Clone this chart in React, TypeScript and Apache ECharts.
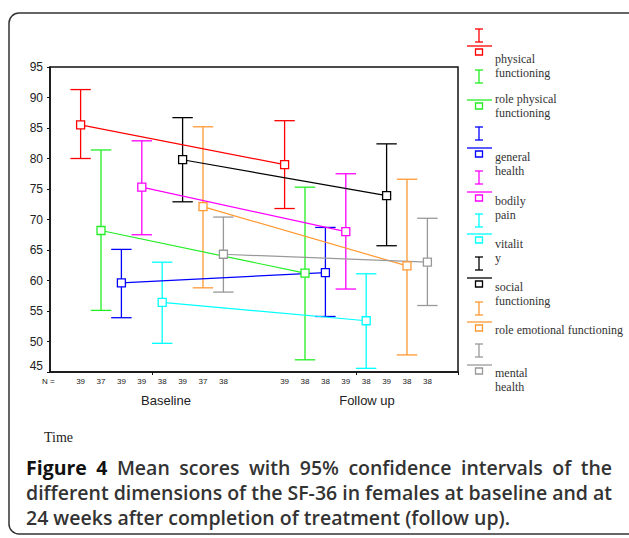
import React, { useEffect, useRef } from "react";
import * as echarts from "echarts";

const dimensions = [
  "physical functioning",
  "role physical functioning",
  "general health",
  "bodily pain",
  "vitality",
  "social functioning",
  "role emotional functioning",
  "mental health",
];
const legendLabels = [
  "physical\nfunctioning",
  "role physical\nfunctioning",
  "general\nhealth",
  "bodily\npain",
  "vitalit\ny",
  "social\nfunctioning",
  "role emotional functioning",
  "mental\nhealth",
];
const colors = ["#ff0000", "#22ee22", "#0000ff", "#ff00ff", "#00ffff", "#000000", "#ff9933", "#999999"];
const timeLabels = ["Baseline", "Follow up"];

const baselineMean = [85.5, 68.2, 59.6, 75.3, 56.4, 79.8, 72.1, 64.3];
const baselineLower = [80.0, 55.1, 53.9, 67.5, 49.7, 72.9, 58.8, 58.1];
const baselineUpper = [91.3, 81.4, 65.1, 82.9, 63.0, 86.7, 85.2, 70.4];
const followMean = [79.0, 61.2, 61.3, 68.0, 53.4, 73.9, 62.4, 63.0];
const followLower = [71.8, 47.0, 54.1, 58.6, 45.6, 65.7, 47.8, 55.9];
const followUpper = [86.2, 75.3, 68.7, 77.5, 61.1, 82.4, 76.6, 70.2];
const baselineN = [39, 37, 39, 39, 38, 39, 37, 38];
const followN = [39, 38, 38, 39, 38, 39, 38, 38];

const yMin = 45;
const yMax = 95;
const yStep = 5;

// layout of the (SPSS style) legend: top of "I" glyph, legend line, first text line centre
const legendIconTop = [29, 70, 127, 171, 214, 257, 302, 344];
const legendLineY = [46, 100, 148, 192, 234, 278, 322, 365];
const legendTextY = [59, 99, 157, 201, 244, 287, 330, 373];

const captionBold = "Figure 4";
const captionLines = [
  "Figure 4 Mean scores with 95% confidence intervals of the",
  "different dimensions of the SF-36 in females at baseline and at",
  "24 weeks after completion of treatment (follow up).",
];

// category slots: 1 empty, 8 baseline, 2 empty, 8 follow-up, 1 empty
const baseStart = 1;
const followStart = 11;
const slotCount = 20;
const nLabels: string[] = [];
for (let i = 0; i < slotCount; i++) nLabels.push("");
baselineN.forEach((n, i) => (nLabels[baseStart + i] = String(n)));
followN.forEach((n, i) => (nLabels[followStart + i] = String(n)));
const slotNames = nLabels.map((_, i) => "s" + i);

const CAP_SIZE = 19.5;
const capFont = (bold: boolean) => `${bold ? "bold" : "600"} ${CAP_SIZE}px "Open Sans", sans-serif`;

function captionGraphics(): any[] {
  const ctx = document.createElement("canvas").getContext("2d")!;
  const left = 26;
  const right = 612;
  const out: any[] = [];
  captionLines.forEach((line, li) => {
    const y = 467 + li * 25;
    const words = line.split(" ");
    const boldCount = li === 0 ? captionBold.split(" ").length : 0;
    const widths = words.map((w, wi) => {
      ctx.font = capFont(wi < boldCount);
      return ctx.measureText(w).width;
    });
    ctx.font = capFont(false);
    const spaceW = ctx.measureText(" ").width;
    const justify = li < captionLines.length - 1;
    const total = widths.reduce((a, b) => a + b, 0);
    const gap = justify ? (right - left - total) / (words.length - 1) : spaceW;
    let x = left;
    words.forEach((w, wi) => {
      const bold = wi < boldCount;
      out.push({
        type: "text",
        x,
        y,
        silent: true,
        style: {
          text: w,
          font: capFont(bold),
          fill: bold ? "#111" : "#333",
          verticalAlign: "middle",
        },
      });
      x += widths[wi] + gap;
    });
  });
  return out;
}

export default function App() {
  const ref = useRef<HTMLDivElement>(null);
  useEffect(() => {
    document.body.style.margin = "0";
    const chart = echarts.init(ref.current!, undefined, { renderer: "svg" });

    const errorData: number[][] = [];
    dimensions.forEach((_, i) => {
      errorData.push([baseStart + i, baselineLower[i], baselineUpper[i], i]);
      errorData.push([followStart + i, followLower[i], followUpper[i], i]);
    });

    const lineSeries = dimensions.map((name, i) => ({
      name,
      type: "line",
      data: [
        [baseStart + i, baselineMean[i]],
        [followStart + i, followMean[i]],
      ],
      symbol: "rect",
      symbolSize: 8,
      showSymbol: true,
      itemStyle: { color: "#ffffff", borderColor: colors[i], borderWidth: 1.3 },
      lineStyle: { color: colors[i], width: 1.2 },
      z: 4,
      silent: true,
    }));

    const legendGraphics: any[] = [];
    const lx = 467;
    dimensions.forEach((_, i) => {
      const c = colors[i];
      const cx = 479;
      const t = legendIconTop[i];
      const b = legendIconTop[i] + 13;
      const ly = legendLineY[i];
      legendGraphics.push(
        { type: "line", shape: { x1: cx, y1: t, x2: cx, y2: b }, style: { stroke: c, lineWidth: 1.3 } },
        { type: "line", shape: { x1: cx - 4, y1: t, x2: cx + 4, y2: t }, style: { stroke: c, lineWidth: 1.3 } },
        { type: "line", shape: { x1: cx - 4, y1: b, x2: cx + 4, y2: b }, style: { stroke: c, lineWidth: 1.3 } },
        { type: "line", shape: { x1: lx, y1: ly, x2: lx + 25, y2: ly }, style: { stroke: c, lineWidth: 1.3 } },
        {
          type: "rect",
          shape: { x: cx - 3.5, y: ly + 3, width: 7, height: 6 },
          style: { fill: "#fff", stroke: c, lineWidth: 1.3 },
        },
        {
          type: "text",
          x: 495,
          y: legendTextY[i] - 7,
          style: {
            text: legendLabels[i],
            font: '12px "Liberation Serif", serif',
            fill: "#333",
            lineHeight: 14,
            verticalAlign: "top",
          },
        }
      );
    });

    chart.setOption({
      animation: false,
      grid: {
        left: 50,
        top: 67,
        width: 408,
        height: 305,
        show: true,
        borderColor: "#111",
        borderWidth: 1.5,
        backgroundColor: "transparent",
      },
      xAxis: {
        type: "category",
        data: slotNames,
        boundaryGap: true,
        axisLine: { show: true, lineStyle: { color: "#111", width: 1.5 } },
        axisTick: {
          show: true,
          length: 3,
          interval: (idx: number) => idx === 5 || idx === 15,
          lineStyle: { color: "#111" },
        },
        axisLabel: {
          interval: 0,
          formatter: (_v: string, idx: number) => nLabels[idx],
          fontSize: 8,
          fontFamily: '"Liberation Sans", Arial, sans-serif',
          color: "#222",
          margin: 5,
        },
        splitLine: { show: false },
      },
      yAxis: {
        type: "value",
        min: yMin,
        max: yMax,
        interval: yStep,
        axisLine: { show: true, lineStyle: { color: "#111", width: 1.5 } },
        axisTick: { show: true, length: 3, lineStyle: { color: "#111" } },
        axisLabel: {
          fontSize: 12,
          fontFamily: '"Liberation Sans", Arial, sans-serif',
          color: "#222",
          margin: 7,
          verticalAlignMinLabel: "bottom",
        },
        splitLine: { show: false },
      },
      series: [
        {
          type: "custom",
          data: errorData,
          encode: { x: 0, y: [1, 2] },
          z: 2,
          silent: true,
          renderItem: (_params: any, api: any) => {
            const x = api.value(0);
            const c = colors[api.value(3)];
            const top = api.coord([x, api.value(2)]);
            const bot = api.coord([x, api.value(1)]);
            const hw = api.size([1, 0])[0] * 0.5;
            const style = { stroke: c, lineWidth: 1.3 };
            return {
              type: "group",
              children: [
                { type: "line", shape: { x1: top[0], y1: top[1], x2: bot[0], y2: bot[1] }, style },
                { type: "line", shape: { x1: top[0] - hw, y1: top[1], x2: top[0] + hw, y2: top[1] }, style },
                { type: "line", shape: { x1: bot[0] - hw, y1: bot[1], x2: bot[0] + hw, y2: bot[1] }, style },
              ],
            };
          },
        },
        ...lineSeries,
      ],
      graphic: [
        {
          type: "rect",
          shape: { x: 9, y: 13, width: 640, height: 521, r: 10 },
          style: { fill: "none", stroke: "#333", lineWidth: 1.5 },
          silent: true,
          z: -1,
        },
        ...legendGraphics,
        {
          type: "text",
          x: 42,
          y: 381,
          style: {
            text: "N =",
            font: '8px "Liberation Sans", Arial, sans-serif',
            fill: "#222",
            verticalAlign: "middle",
          },
        },
        {
          type: "text",
          x: 166,
          y: 400,
          style: {
            text: timeLabels[0],
            font: '13px "Liberation Sans", Arial, sans-serif',
            fill: "#222",
            align: "center",
            verticalAlign: "middle",
          },
        },
        {
          type: "text",
          x: 367,
          y: 400,
          style: {
            text: timeLabels[1],
            font: '13px "Liberation Sans", Arial, sans-serif',
            fill: "#222",
            align: "center",
            verticalAlign: "middle",
          },
        },
        {
          type: "text",
          x: 44,
          y: 437,
          style: {
            text: "Time",
            font: '14px "Liberation Serif", serif',
            fill: "#222",
            verticalAlign: "middle",
          },
        },
        ...captionGraphics(),
      ],
    });
    return () => chart.dispose();
  }, []);
  return <div ref={ref} style={{ width: 629, height: 538 }} />;
}
